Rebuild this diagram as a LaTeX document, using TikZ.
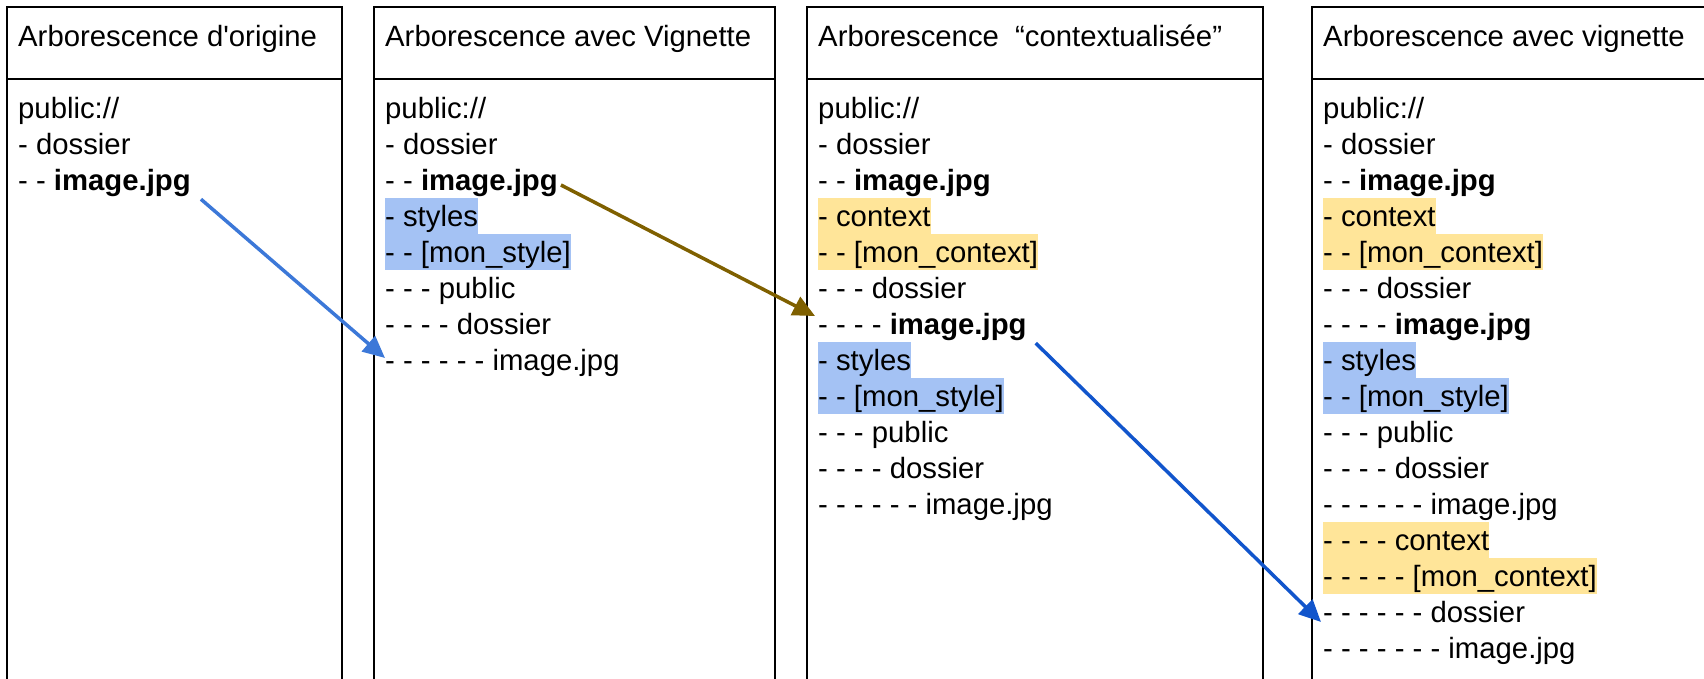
\documentclass[tikz,border=0pt]{standalone}
\usepackage{fontspec}
\setmainfont{Liberation Sans}
\usepackage{tikz}
\usetikzlibrary{arrows.meta}
\definecolor{styleHighlight}{HTML}{A4C2F4}
\definecolor{contextHighlight}{HTML}{FFE599}
\definecolor{firstArrowColor}{HTML}{3C78D8}
\definecolor{secondArrowColor}{HTML}{7F6000}
\definecolor{thirdArrowColor}{HTML}{1155CC}
\newcommand{\treeFont}{\fontsize{29.3}{36}\selectfont}
\tikzstyle{treeLayout} = [x = 1pt, y = -1pt]
\tikzstyle{frameLine} = [color=black, line width=2.5pt]
\tikzstyle{treeText} = [anchor=base west, inner sep=0, text height=28pt, text depth=8pt, font=\treeFont]
\tikzstyle{styleRow} = [fill=styleHighlight]
\tikzstyle{contextRow} = [fill=contextHighlight]
\tikzstyle{moveArrow} = [line width=3.5pt, -{Triangle[length=22pt, width=20pt]}]
\newcommand{\treeFrame}[4]{
  \draw [frameLine] (#1, 700) -- (#1, 7) -- (#2, 7) -- (#2, 700);
  \draw [frameLine] (#1, 79) -- (#2, 79);
  \node [treeText] (#3) at (#1 + 11, 46) {#4};
}
\newcommand{\treeRow}[5]{\node [treeText, #4] (#1) at (#2 + 11, 82 + 36 * #3) {#5};}

\begin{document}
\begin{tikzpicture}[treeLayout]
  \useasboundingbox (0, 0) rectangle (1704, 678);
  \treeFrame{7}{342}{headA}{Arborescence d\textquotesingle origine}
  \treeFrame{374}{775}{headB}{Arborescence avec Vignette}
  \treeFrame{807}{1263}{headC}{Arborescence~ “contextualisée”}
  \treeFrame{1312}{1720}{headD}{Arborescence avec vignette}

  \treeRow{a1}{7}{1}{}{public://}
  \treeRow{a2}{7}{2}{}{- dossier}
  \treeRow{a3}{7}{3}{}{- - \textbf{image.jpg}}

  \treeRow{b1}{374}{1}{}{public://}
  \treeRow{b2}{374}{2}{}{- dossier}
  \treeRow{b3}{374}{3}{}{- - \textbf{image.jpg}}
  \treeRow{b4}{374}{4}{styleRow}{- styles}
  \treeRow{b5}{374}{5}{styleRow}{- - [mon\_style]}
  \treeRow{b6}{374}{6}{}{- - - public}
  \treeRow{b7}{374}{7}{}{- - - - dossier}
  \treeRow{b8}{374}{8}{}{- - - - - - image.jpg}

  \treeRow{c1}{807}{1}{}{public://}
  \treeRow{c2}{807}{2}{}{- dossier}
  \treeRow{c3}{807}{3}{}{- - \textbf{image.jpg}}
  \treeRow{c4}{807}{4}{contextRow}{- context}
  \treeRow{c5}{807}{5}{contextRow}{- - [mon\_context]}
  \treeRow{c6}{807}{6}{}{- - - dossier}
  \treeRow{c7}{807}{7}{}{- - - - \textbf{image.jpg}}
  \treeRow{c8}{807}{8}{styleRow}{- styles}
  \treeRow{c9}{807}{9}{styleRow}{- - [mon\_style]}
  \treeRow{c10}{807}{10}{}{- - - public}
  \treeRow{c11}{807}{11}{}{- - - - dossier}
  \treeRow{c12}{807}{12}{}{- - - - - - image.jpg}

  \treeRow{d1}{1312}{1}{}{public://}
  \treeRow{d2}{1312}{2}{}{- dossier}
  \treeRow{d3}{1312}{3}{}{- - \textbf{image.jpg}}
  \treeRow{d4}{1312}{4}{contextRow}{- context}
  \treeRow{d5}{1312}{5}{contextRow}{- - [mon\_context]}
  \treeRow{d6}{1312}{6}{}{- - - dossier}
  \treeRow{d7}{1312}{7}{}{- - - - \textbf{image.jpg}}
  \treeRow{d8}{1312}{8}{styleRow}{- styles}
  \treeRow{d9}{1312}{9}{styleRow}{- - [mon\_style]}
  \treeRow{d10}{1312}{10}{}{- - - public}
  \treeRow{d11}{1312}{11}{}{- - - - dossier}
  \treeRow{d12}{1312}{12}{}{- - - - - - image.jpg}
  \treeRow{d13}{1312}{13}{contextRow}{- - - - context}
  \treeRow{d14}{1312}{14}{contextRow}{- - - - - [mon\_context]}
  \treeRow{d15}{1312}{15}{}{- - - - - - dossier}
  \treeRow{d16}{1312}{16}{}{- - - - - - - image.jpg}

  % moves between the trees
  \draw [moveArrow, color=firstArrowColor] ([shift={(10,1)}]a3.south east) -- ([shift={(0,-2)}]b8.west);
  \draw [moveArrow, color=secondArrowColor] ([shift={(3,5)}]b3.east) -- ([shift={(-3,-8)}]c7.west);
  \draw [moveArrow, color=thirdArrowColor] ([shift={(9,1)}]c7.south east) -- ([shift={(-2,10)}]d15.west);
\end{tikzpicture}
\end{document}
